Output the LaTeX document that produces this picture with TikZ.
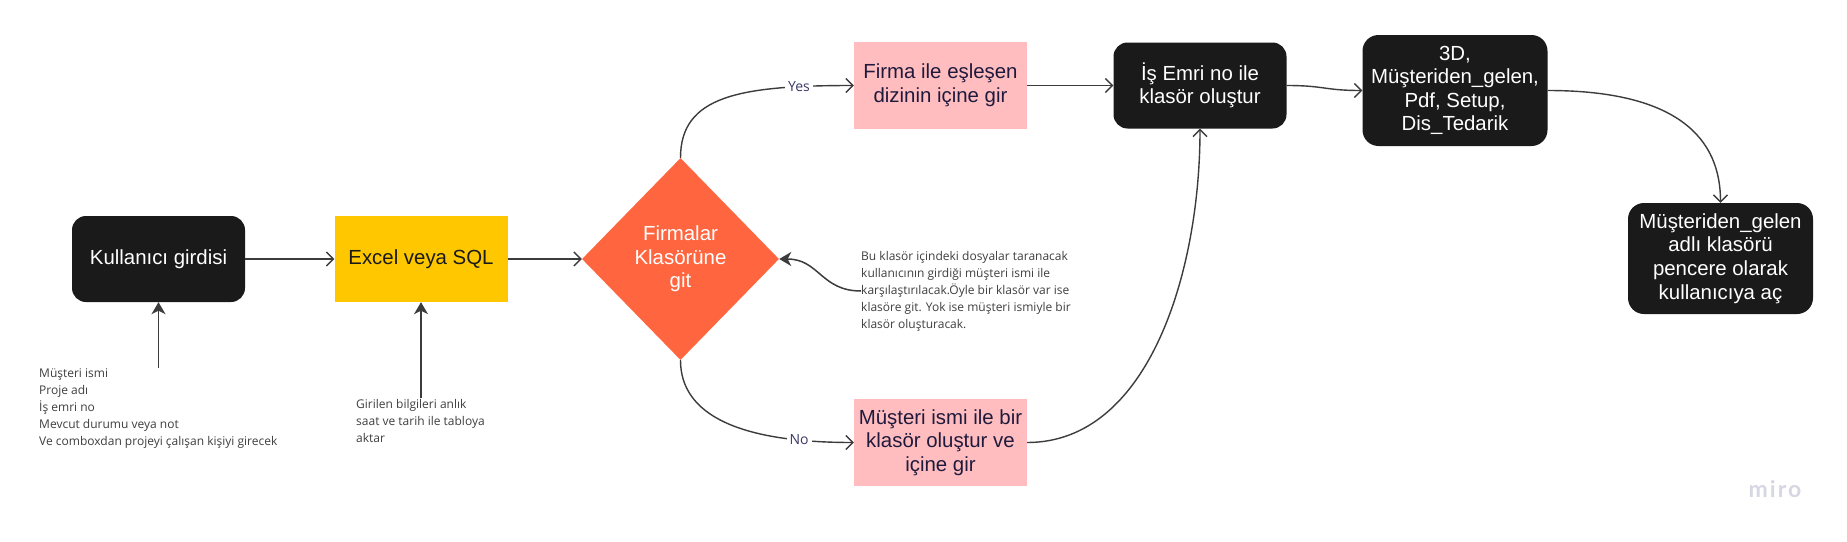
\documentclass[tikz,border=0pt]{standalone}
\usepackage{fontspec}
\setmainfont{Liberation Sans}
\newfontfamily\notefont{Open Sans}
\newfontfamily\logofont[LetterSpace=9]{Lato}
\usetikzlibrary{arrows.meta,shapes.geometric,calc}
\definecolor{boxblack}{HTML}{1A1A1A}
\definecolor{boxyellow}{HTML}{FFC700}
\definecolor{boxorange}{HTML}{FF6640}
\definecolor{boxpink}{HTML}{FFBDBF}
\definecolor{inkpink}{HTML}{1F1A3D}
\definecolor{linegrey}{HTML}{3C3C3C}
\definecolor{notegrey}{HTML}{3F3F3F}
\definecolor{labelink}{HTML}{3A3A66}
\definecolor{logogrey}{HTML}{D6D7E2}
\tikzset{
  boxtext/.style={inner sep=0pt,align=center,font=\fontsize{20.4}{23.6}\selectfont},
  blackbox/.style={boxtext,fill=boxblack,text=white,rounded corners=14pt,minimum width=173pt,minimum height=86pt},
  blackbig/.style={blackbox,rounded corners=16pt,minimum width=185pt,minimum height=111pt},
  yellowbox/.style={boxtext,fill=boxyellow,text=boxblack,minimum width=173pt,minimum height=86pt},
  pinkbox/.style={boxtext,fill=boxpink,text=inkpink,minimum width=173pt,minimum height=87pt},
  decision/.style={boxtext,diamond,aspect=1,fill=boxorange,text=white,minimum width=197pt,minimum height=202pt},
  notetext/.style={inner sep=0pt,align=left,anchor=west,text=notegrey,font=\notefont\fontsize{12}{17}\selectfont},
  conn/.style={draw=linegrey,line width=1.4pt,-{Straight Barb[length=7pt,width=14pt,line width=1.4pt]}},
  connfill/.style={draw=linegrey,line width=1.5pt,-{Stealth[length=12pt,width=14pt,inset=3.5pt]}},
  edgelabel/.style={fill=white,text=labelink,inner sep=3pt,font=\notefont\fontsize{14}{16}\selectfont},
}
\begin{document}
\begin{tikzpicture}[x=1pt,y=-1pt]
\useasboundingbox (0,0) rectangle (1847,541);
\fill[white] (0,0) rectangle (1847,541);
% boxes
\node[blackbox] (user) at (158.5,259) {Kullanıcı girdisi};
\node[yellowbox] (excel) at (421,259) {Excel veya SQL};
\node[decision] (dec) at (680.5,259) {Firmalar\\Klasörüne\\git};
\node[pinkbox] (match) at (940.5,85.5) {Firma ile eşleşen\\dizinin içine gir};
\node[pinkbox] (create) at (940.5,442.5) {Müşteri ismi ile bir\\klasör oluştur ve\\içine gir};
\node[blackbox] (order) at (1200,85.5) {İş Emri no ile\\klasör oluştur};
\node[blackbig] (subs) at (1455,90.5) {3D,\\Müşteriden\_gelen,\\Pdf, Setup,\\Dis\_Tedarik};
\node[blackbig] (open) at (1720.5,258.5) {Müşteriden\_gelen\\adlı klasörü\\pencere olarak\\kullanıcıya aç};
% notes
\node[notetext] (note1) at (39,409) {Müşteri ismi\\Proje adı\\İş emri no\\Mevcut durumu veya not\\Ve comboxdan projeyi çalışan kişiyi girecek};
\node[notetext] (note2) at (356,421) {Girilen bilgileri anlık\\saat ve tarih ile tabloya\\aktar};
\node[notetext] (note3) at (861,291) {Bu klasör içindeki dosyalar taranacak\\kullanıcının girdiği müşteri ismi ile\\karşılaştırılacak.Öyle bir klasör var ise\\klasöre git. Yok ise müşteri ismiyle bir\\klasör oluşturacak.};
\node[text=logogrey,inner sep=0pt,font=\logofont\bfseries\fontsize{23}{25}\selectfont] (logo) at (1775,489) {miro};
% connectors
\draw[conn] (user.east) -- (excel.west);
\draw[conn] (excel.east) -- (dec.west);
\draw[connfill] (user.south |- note1.north) ++(0,-1) coordinate (n1s) (n1s) -- (user.south);
\draw[connfill] (excel.south |- note2.north) ++(0,-1) coordinate (n2s) (n2s) -- (excel.south);
\draw[connfill] (note3.west) .. controls +(-40,0) and +(40,0) .. (dec.east);
\draw[conn] (dec.north) .. controls +(0,-62) and +(-114,0) .. (match.west) node[pos=.825,edgelabel] (yes) {Yes};
\draw[conn] (dec.south) .. controls +(0,55) and +(-114,0) .. (create.west) node[pos=.825,edgelabel] (no) {No};
\draw[conn] (match.east) -- (order.west);
\draw[conn] (order.east) .. controls +(38,0) and +(-38,0) .. (subs.west);
\draw[conn] (create.east) .. controls +(122,0) and +(0,142) .. (order.south);
\draw[conn] (subs.east) .. controls +(132,0) and +(0,-63) .. (open.north);
\end{tikzpicture}
\end{document}
